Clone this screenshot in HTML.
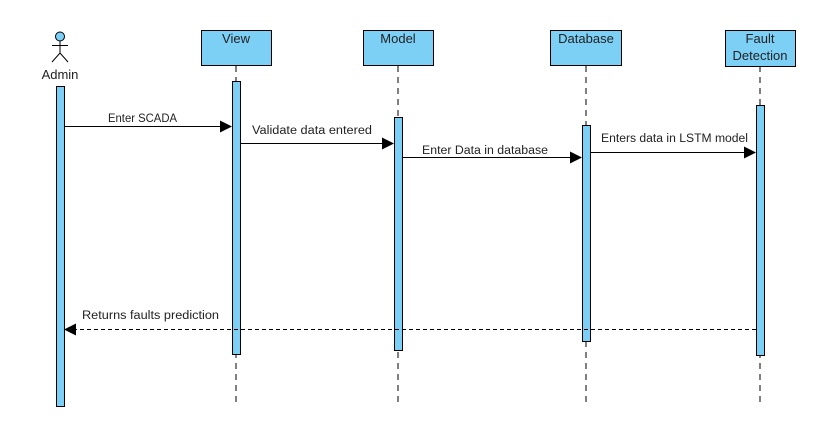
<!DOCTYPE html>
<html><head><meta charset="utf-8"><style>html,body{margin:0;padding:0;background:#fff;}svg{display:block}</style></head>
<body>
<svg width="827" height="437" viewBox="0 0 827 437" xmlns="http://www.w3.org/2000/svg" font-family="Liberation Sans, sans-serif">
<rect width="827" height="437" fill="#fff"/>
<g stroke="#000" stroke-width="1" stroke-dasharray="6,5" fill="none">
<line x1="236" y1="66" x2="236" y2="405"/>
<line x1="398" y1="66" x2="398" y2="405"/>
<line x1="586" y1="66" x2="586" y2="405"/>
<line x1="760" y1="66" x2="760" y2="405"/>
</g>
<g fill="#7ccff5" stroke="#000" stroke-width="1">
<rect x="201.5" y="30.5" width="70" height="35"/>
<rect x="363.5" y="30.5" width="70" height="35"/>
<rect x="550.5" y="30.5" width="71" height="35"/>
<rect x="725.5" y="30.5" width="70" height="36"/>
<rect x="56.5" y="86.5" width="8" height="320"/>
<rect x="232.5" y="81.5" width="8" height="273"/>
<rect x="394.5" y="117.5" width="8" height="233"/>
<rect x="582.5" y="125.5" width="8" height="216"/>
<rect x="756.5" y="105.5" width="8" height="250"/>
<circle cx="60" cy="36.5" r="4.5"/>
</g>
<g stroke="#000" stroke-width="1" fill="none">
<line x1="60" y1="41" x2="60" y2="53"/>
<line x1="52" y1="45.5" x2="68" y2="45.5"/>
<polyline points="52,62 60,53 68,62"/>
</g>
<g font-size="13" fill="#222" text-anchor="middle">
<text x="60" y="79">Admin</text>
<text x="236" y="43">View</text>
<text x="398" y="43">Model</text>
<text x="586" y="43">Database</text>
<text x="760" y="43">Fault</text>
<text x="760" y="60">Detection</text>
</g>
<g stroke="#000" stroke-width="1">
<line x1="64" y1="126.5" x2="220" y2="126.5"/>
<line x1="240" y1="143.5" x2="382" y2="143.5"/>
<line x1="402" y1="157.5" x2="570" y2="157.5"/>
<line x1="590" y1="152.5" x2="744" y2="152.5"/>
<line x1="756" y1="329.5" x2="76" y2="329.5" stroke-dasharray="4,3"/>
</g>
<g fill="#000">
<polygon points="220,120.5 232,126.5 220,132.5"/>
<polygon points="382,137.5 394,143.5 382,149.5"/>
<polygon points="570,151.5 582,157.5 570,163.5"/>
<polygon points="744,146.5 756,152.5 744,158.5"/>
<polygon points="76,323.5 64,329.5 76,335.5"/>
</g>
<g font-size="11.5" fill="#222">
<text x="108" y="122" textLength="69" lengthAdjust="spacingAndGlyphs">Enter SCADA</text>
<text x="252" y="134" textLength="120" lengthAdjust="spacingAndGlyphs">Validate data entered</text>
<text x="422" y="154" textLength="126" lengthAdjust="spacingAndGlyphs">Enter Data in database</text>
<text x="601" y="142" textLength="147" lengthAdjust="spacingAndGlyphs">Enters data in LSTM model</text>
<text x="82" y="319" textLength="137" lengthAdjust="spacingAndGlyphs">Returns faults prediction</text>
</g>
</svg>
</body></html>
